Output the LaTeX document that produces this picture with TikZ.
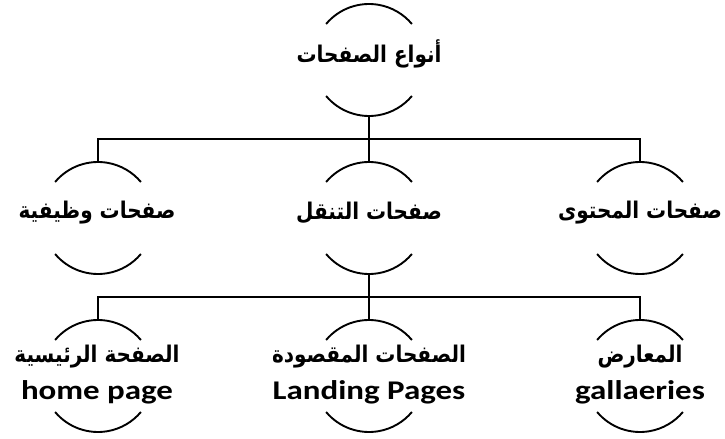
\documentclass[tikz,border=0pt]{standalone}
\usepackage{fontspec}
\TeXXeTstate=1
\newfontfamily\arabicfont[Script=Arabic]{DejaVu Sans}
\newfontfamily\latinfont{Carlito}
\tikzset{
  ring/.style={circle, minimum size=112bp, inner sep=0pt, outer sep=0pt, draw=none},
  arcline/.style={line width=1.9bp, black},
  link/.style={line width=1.9bp, black},
  artext/.style={font=\arabicfont\bfseries\fontsize{20bp}{22bp}\selectfont, inner sep=0pt, yscale=1.15, transform shape},
  entext/.style={font=\latinfont\bfseries\fontsize{27bp}{29bp}\selectfont, inner sep=0pt, xscale=1.22, transform shape}
}
\begin{document}
\begin{tikzpicture}[x=1bp,y=1bp]
\useasboundingbox (0,0) rectangle (725,-439);
\node[ring] (top) at (369,-60) {};
\node[ring] (a) at (98,-218) {};
\node[ring] (b) at (369,-218) {};
\node[ring] (c) at (640,-218) {};
\node[ring] (d) at (98,-376) {};
\node[ring] (e) at (369,-376) {};
\node[ring] (f) at (640,-376) {};
\foreach \n in {top,a,b,c,d,e,f}{
  \draw[arcline] (\n.140) arc[start angle=140, end angle=40, radius=56bp];
  \draw[arcline] (\n.220) arc[start angle=220, end angle=320, radius=56bp];
}
\coordinate (bus1) at (369,-139);
\coordinate (bus2) at (369,-297);
\draw[link] (top.south) -- (b.north);
\draw[link] (a.north) |- (bus1) -| (c.north);
\draw[link] (b.south) -- (e.north);
\draw[link] (d.north) |- (bus2) -| (f.north);
\node[artext] (ttop) at (369,-54) {\beginR أنواع الصفحات\endR};
\node[artext] (ta) at (97,-213) {\beginR صفحات وظيفية\endR};
\node[artext] (tb) at (369,-213) {\beginR صفحات التنقل\endR};
\node[artext] (tc) at (640,-213) {\beginR صفحات المحتوى\endR};
\node[artext] (td) at (97,-357) {\beginR الصفحة الرئيسية\endR};
\node[artext] (te) at (369,-357) {\beginR الصفحات المقصودة\endR};
\node[artext] (tf) at (640,-357) {\beginR المعارض\endR};
\node[entext] (ed) at (97,-392) {home page};
\node[entext] (ee) at (369,-392) {Landing Pages};
\node[entext] (ef) at (640,-392) {gallaeries};
\end{tikzpicture}
\end{document}
